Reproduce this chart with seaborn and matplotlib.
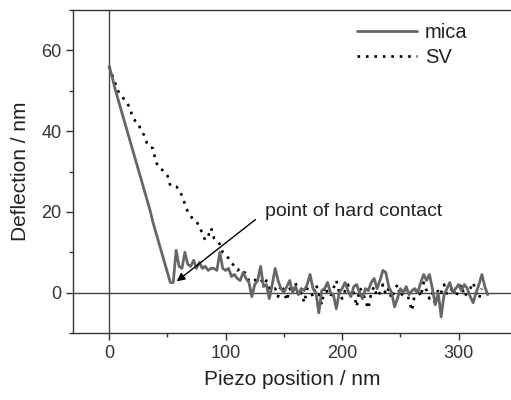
import numpy as np
import pandas as pd
import matplotlib
matplotlib.use('Agg')
import matplotlib.pyplot as plt
from matplotlib.ticker import MultipleLocator
import seaborn as sns

# Curvas de força: deflexão vs posição do piezo
piezo_mica = np.arange(0, 327.5, 2.5)
deflexao_mica = [
    56, 53.5, 50.5, 48, 45.5, 43, 40.5, 38, 35.5, 33,
    30.5, 28, 25.5, 23, 20.5, 17.5, 15, 12.5, 10, 7.5,
    5, 2.5, 2.5, 10.5, 6.5, 6, 10, 7, 6.5, 8,
    6, 7.5, 6, 6.5, 5.5, 6, 6, 5.5, 10, 6,
    5.5, 6, 4, 4.5, 3.5, 3, 5, 3.5, 2.5, -1,
    2, 3, 6.5, 1.5, 2, -1.5, 2, 6, 3, 1,
    0, 1.5, 3, 0, 1.5, -0.5, 1, 0.5, 2, 4.5,
    1, 0, -5, 0.5, 1, 2.5, 0, -0.5, -4, 0,
    1, 2.5, 0.5, -1, 1.5, 2, 0, -1.5, 1, 0.5,
    2.5, 3.5, 1, 3, 5.5, 5, 1.5, 0, -3.5, -1.5,
    1, 0, 1.5, -0.5, 0.5, 1, 0, 2.5, 4.5, 3,
    4.5, 1, -3, 0, -6, -0.5, 1, 2.5, 0, 1,
    2, 0.5, 2, 1, -1, -2.5, 0, 2, 4.5, 1.5,
    -0.5,
]

piezo_sv = np.arange(0, 322.5, 2.5)
deflexao_sv = [
    56, 54, 52, 50, 49, 48, 47, 46, 43.5, 42.5,
    42, 40, 39, 37, 36, 35.8, 32.5, 31, 30.5, 30,
    29, 26.5, 26.5, 26.3, 25.5, 24, 22, 20, 19, 18,
    17.5, 16.5, 14.5, 13, 14, 16, 13.5, 13, 12, 10,
    9.5, 8.5, 7.5, 6.5, 5.5, 6, 5.5, 4.5, 3, 2.5,
    3, 3.5, 3.5, 2, 3, 1, 0.5, 1, -1, 2,
    0.5, -2, 1, 0, 2.5, -1, 0, -2.5, 1, 0.5,
    -1, 2, 0, -3, 1.5, 0, -1, 1, 3, 0,
    -1.5, 0.5, 2, -1, 0, -3.5, 1, 0.5, -2, -4,
    0, 1.5, -1, 0, 2, -0.5, 1, -1.5, 0.5, 2,
    -1, 0, 1, -2, -4.5, 0, 1, -1, 2.5, 0.5,
    -1.5, 0, -3, 1, 0, 2, -0.5, 0, 1.5, -1,
    0.5, 2, -1, 0, 1, 2.5, 0, -1.5, 1,
]

mica = pd.DataFrame({'Piezo': piezo_mica, 'Deflexao': deflexao_mica})
sv = pd.DataFrame({'Piezo': piezo_sv, 'Deflexao': deflexao_sv})

sns.set_style('ticks')
plt.rcParams['font.family'] = ['Liberation Sans', 'DejaVu Sans']
plt.rcParams['text.color'] = '#222222'
plt.rcParams['axes.labelcolor'] = '#222222'
plt.rcParams['xtick.color'] = '#333333'
plt.rcParams['ytick.color'] = '#333333'

fig = plt.figure(figsize = (5.11, 4.0), dpi = 100)
ax = fig.add_axes([0.143, 0.1675, 0.857, 0.8075])

ax.axhline(0, color = '#444444', lw = 1.0, zorder = 1)
ax.axvline(0, color = '#444444', lw = 1.0, zorder = 1)

sns.lineplot(x = 'Piezo', y = 'Deflexao', data = mica, ax = ax, color = '#666666',
             lw = 2.0, label = 'mica', zorder = 3)
sns.lineplot(x = 'Piezo', y = 'Deflexao', data = sv, ax = ax, color = 'black',
             lw = 1.9, linestyle = (0, (1, 2.2)), label = 'SV', zorder = 2)

ax.set_xlim(-31, 345)
ax.set_ylim(-10, 70)
ax.xaxis.set_major_locator(MultipleLocator(100))
ax.xaxis.set_minor_locator(MultipleLocator(50))
ax.yaxis.set_major_locator(MultipleLocator(20))
ax.yaxis.set_minor_locator(MultipleLocator(10))
ax.tick_params(which = 'major', direction = 'out', length = 5, width = 1, labelsize = 13)
ax.tick_params(which = 'minor', direction = 'out', length = 3, width = 1)

for lado in ['left', 'top', 'bottom']:
    ax.spines[lado].set_visible(True)
    ax.spines[lado].set_color('#333333')
    ax.spines[lado].set_linewidth(1.0)
ax.spines['right'].set_visible(False)

ax.set_xlabel('Piezo position / nm', fontsize = 15, labelpad = 6)
ax.set_ylabel('Deflection / nm', fontsize = 15, labelpad = 8)

ax.annotate('point of hard contact', xy = (58, 2.8), xytext = (134, 20),
            fontsize = 14, ha = 'left', va = 'center',
            arrowprops = dict(arrowstyle = '-|>', color = 'black', lw = 1.0,
                              mutation_scale = 12, shrinkA = 6, shrinkB = 0,
                              relpos = (0, 0.5)))

ax.legend(loc = 'upper left', bbox_to_anchor = (0.606, 1.015), frameon = False,
          fontsize = 14.5, handlelength = 3.0, handletextpad = 0.4, labelspacing = 0.3)

fig.savefig('out.png', dpi = 100)
